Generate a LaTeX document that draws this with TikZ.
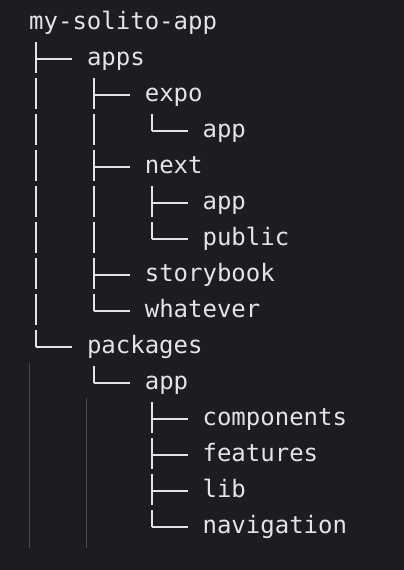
\documentclass[tikz,border=0pt]{standalone}
\usepackage{fontspec}
\setmonofont{DejaVu Sans Mono}
\usetikzlibrary{calc}
\definecolor{termbg}{HTML}{1D1C21}
\definecolor{termfg}{HTML}{E4E4E6}
\definecolor{guidegray}{HTML}{4A4A50}

\begin{document}
\begin{tikzpicture}[x=1pt,y=1pt,
  entry/.style={anchor=base west, inner sep=0pt, text=termfg,
    font=\ttfamily\fontsize{24}{28}\selectfont},
  branch/.style={draw=termfg, line width=2pt},
  trunk/.style={branch, dash pattern=on 31pt off 5pt},
  guide/.style={draw=guidegray, line width=1pt}]
  \fill[termbg] (0,0) rectangle (404,-570);
  \useasboundingbox (0,0) rectangle (404,-570);

  \foreach \c/\r/\n/\t in {0/0/root/my-solito-app, 4/1/apps/apps, 8/2/expo/expo,
      12/3/expoapp/app, 8/4/next/next, 12/5/nextapp/app, 12/6/public/public,
      8/7/storybook/storybook, 8/8/whatever/whatever, 4/9/packages/packages,
      8/10/pkgapp/app, 12/11/components/components, 12/12/features/features,
      12/13/lib/lib, 12/14/navigation/navigation}
    \node[entry] (\n) at ({29+14.45*\c},{-29.3-36*\r}) {\t};

  %% stem under a parent, hook in front of a child
  \foreach \n in {root,apps,expo,next,packages,pkgapp}
    \coordinate (\n-stem) at ([xshift=7.2pt,yshift=-12.7pt]\n.base west);
  \foreach \n in {apps,expo,expoapp,next,nextapp,public,storybook,whatever,
      packages,pkgapp,components,features,lib,navigation}
    \coordinate (\n-hook) at ([xshift=-14.45pt,yshift=6.5pt]\n.base west);

  \foreach \p/\kids/\last in {root/{apps,packages}/packages,
      apps/{expo,next,storybook,whatever}/whatever, expo/{expoapp}/expoapp,
      next/{nextapp,public}/public, packages/{pkgapp}/pkgapp,
      pkgapp/{components,features,lib,navigation}/navigation}{
    \draw[trunk] (\p-stem) -- (\p-stem |- \last-hook);
    \foreach \k in \kids
      \draw[branch] (\p-stem |- \k-hook) -- (\k-hook);
  }

  \coordinate (bottom) at (0,-548);
  \draw[guide] ($(root.base west |- packages.base west)+(0,-10)$) -- (root.base west |- bottom);
  \draw[guide] ($(packages.base west |- pkgapp.base west)+(0,-9)$) -- (packages.base west |- bottom);
\end{tikzpicture}
\end{document}
